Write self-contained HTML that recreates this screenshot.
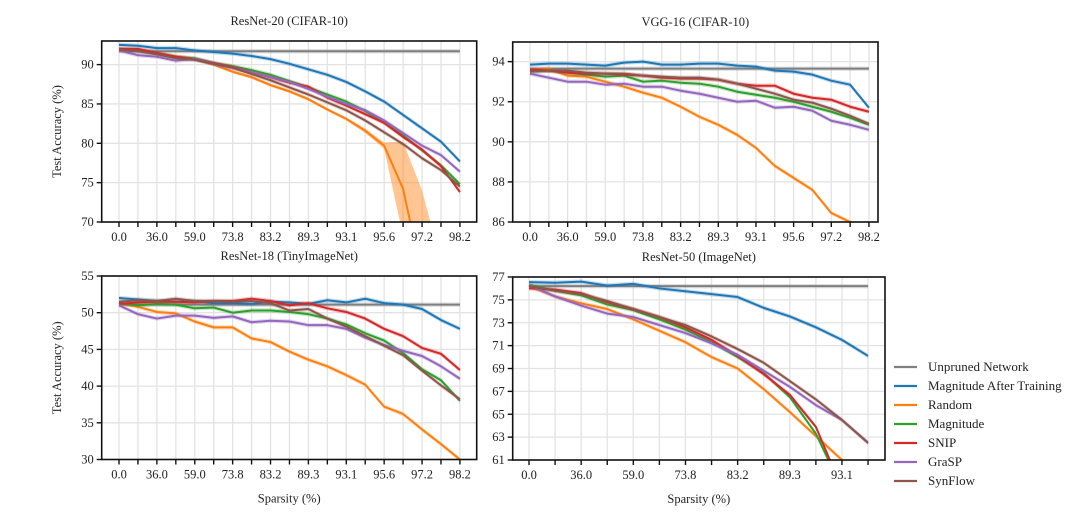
<!DOCTYPE html>
<html><head><meta charset="utf-8">
<style>
html,body{margin:0;padding:0;background:#fff;}
svg{display:block;font-family:"Liberation Serif",serif;}
</style></head>
<body>
<svg id="fig" width="1080" height="514" viewBox="0 0 1080 514" xmlns="http://www.w3.org/2000/svg"></svg>
<script>
const seriesNames = ["Unpruned Network","Magnitude After Training","Random","Magnitude","SNIP","GraSP","SynFlow"];
const seriesKeys = ["unpruned","mat","random","magnitude","snip","grasp","synflow"];
const seriesColors = ["#7f7f7f","#1f77b4","#ff7f0e","#2ca02c","#d62728","#9467bd","#8c564b"];

const xLabels19 = ["0.0","36.0","59.0","73.8","83.2","89.3","93.1","95.6","97.2","98.2"];
const xLabels14 = ["0.0","36.0","59.0","73.8","83.2","89.3","93.1"];

// ResNet-20 (CIFAR-10)
const r20Unpruned = Array(19).fill(91.7);
const r20Mat = [92.5,92.4,92.1,92.1,91.8,91.6,91.4,91.1,90.7,90.1,89.4,88.7,87.8,86.6,85.3,83.6,81.9,80.2,77.7];
const r20Random = [92.0,91.9,91.4,91.0,90.7,90.0,89.1,88.4,87.4,86.6,85.6,84.3,83.1,81.6,79.7,74.2,63.0,55.0,50.0];
const r20RandomBand = [0.2,0.2,0.2,0.2,0.2,0.2,0.2,0.2,0.2,0.2,0.2,0.2,0.2,0.3,0.4,6.0,11,10,10];
const r20Magnitude = [91.9,91.8,91.4,91.0,90.8,90.2,89.8,89.3,88.7,87.9,87.1,86.2,85.3,84.1,82.6,81.0,79.1,77.2,74.8];
const r20Snip = [92.0,92.0,91.5,91.0,90.7,90.2,89.7,89.0,88.4,87.7,87.2,85.8,84.8,83.7,82.6,80.8,79.2,77.1,73.8];
const r20Grasp = [91.8,91.2,91.0,90.5,90.7,90.1,89.6,89.0,88.4,87.8,86.9,85.9,85.0,84.2,82.9,81.3,79.7,78.5,76.4];
const r20Synflow = [91.9,91.7,91.3,90.8,90.6,90.1,89.6,88.8,88.0,87.1,86.2,85.2,84.2,82.9,81.4,79.9,78.1,76.6,74.5];

// VGG-16 (CIFAR-10)
const vggUnpruned = Array(19).fill(93.65);
const vggMat = [93.85,93.9,93.9,93.85,93.8,93.95,94.0,93.85,93.85,93.9,93.9,93.8,93.75,93.55,93.5,93.35,93.05,92.85,91.7];
const vggRandom = [93.55,93.65,93.3,93.25,93.0,92.75,92.45,92.2,91.75,91.25,90.85,90.35,89.7,88.8,88.2,87.6,86.45,86.0,85.4];
const vggMagnitude = [93.5,93.55,93.45,93.35,93.25,93.3,93.0,93.05,92.95,92.9,92.75,92.5,92.35,92.2,92.0,91.75,91.5,91.2,90.85];
const vggSnip = [93.6,93.55,93.45,93.4,93.4,93.35,93.3,93.2,93.15,93.15,93.1,92.9,92.8,92.8,92.4,92.2,92.1,91.75,91.5];
const vggGrasp = [93.4,93.2,93.0,93.0,92.85,92.9,92.75,92.75,92.55,92.4,92.2,92.0,92.05,91.7,91.75,91.55,91.05,90.85,90.6];
const vggSynflow = [93.5,93.55,93.55,93.45,93.4,93.4,93.3,93.25,93.2,93.2,93.1,92.9,92.65,92.4,92.1,91.95,91.65,91.3,90.9];

// ResNet-18 (TinyImageNet)
const r18Unpruned = Array(19).fill(51.1);
const r18Mat = [52.0,51.8,51.6,51.5,51.6,51.3,51.3,51.2,51.5,51.4,51.2,51.7,51.4,51.9,51.3,51.1,50.5,49.0,47.8];
const r18Random = [51.3,50.8,50.1,49.9,48.8,48.0,48.0,46.5,46.0,44.7,43.6,42.7,41.5,40.2,37.2,36.2,34.1,32.1,30.0];
const r18Magnitude = [51.3,51.0,51.2,51.1,50.6,50.7,50.0,50.3,50.3,50.1,49.8,49.2,48.4,47.2,46.2,44.5,42.3,40.8,38.0];
const r18Snip = [51.2,51.4,51.5,51.5,51.4,51.6,51.6,51.9,51.6,51.0,51.3,50.6,50.1,49.2,47.8,46.8,45.2,44.4,42.2];
const r18Grasp = [51.0,49.8,49.2,49.6,49.6,49.3,49.5,48.7,48.9,48.8,48.3,48.3,47.8,46.6,45.6,44.8,44.1,42.7,41.0];
const r18Synflow = [51.5,51.7,51.6,51.9,51.6,51.6,51.5,51.6,51.3,50.3,50.5,49.2,48.1,46.8,45.5,44.2,42.1,40.1,38.2];

// ResNet-50 (ImageNet)
const r50Unpruned = Array(14).fill(76.2);
const r50Mat = [76.55,76.5,76.6,76.25,76.4,76.0,75.75,75.5,75.25,74.3,73.55,72.6,71.5,70.1];
const r50Random = [76.2,75.3,74.7,74.2,73.3,72.3,71.3,70.0,69.0,67.2,65.2,63.1,61.0,59.0];
const r50Magnitude = [76.3,75.8,75.4,74.6,74.1,73.3,72.4,71.3,70.0,68.6,66.5,63.3,58.5,56.0];
const r50Snip = [76.0,75.9,75.6,74.8,74.2,73.5,72.6,71.5,70.1,68.5,66.7,63.9,58.5,56.0];
const r50Grasp = [76.3,75.3,74.5,73.8,73.5,72.8,72.1,71.2,70.2,68.8,67.4,65.8,64.5,62.5];
const r50Synflow = [76.2,75.8,75.5,74.9,74.2,73.5,72.8,71.8,70.7,69.5,67.9,66.3,64.5,62.5];

const panels = [
  {name:"resnet20",title:"ResNet-20 (CIFAR-10)",x0:101.7,x1:476.7,y0:41,y1:222,xs:119,dx:18.94,n:19,
   ymin:70,ymax:93,yTicks:[70,75,80,85,90],xLabels:xLabels19,ylab:true,xlab:false,
   data:[r20Unpruned,r20Mat,r20Random,r20Magnitude,r20Snip,r20Grasp,r20Synflow],band:{2:r20RandomBand}},
  {name:"vgg16",title:"VGG-16 (CIFAR-10)",x0:512.7,x1:878,y0:42,y1:222,xs:530,dx:18.83,n:19,
   ymin:86,ymax:94.98,yTicks:[86,88,90,92,94],xLabels:xLabels19,ylab:false,xlab:false,
   data:[vggUnpruned,vggMat,vggRandom,vggMagnitude,vggSnip,vggGrasp,vggSynflow],band:{}},
  {name:"resnet18",title:"ResNet-18 (TinyImageNet)",x0:101.7,x1:476.7,y0:276,y1:459.5,xs:119,dx:18.94,n:19,
   ymin:30,ymax:55,yTicks:[30,35,40,45,50,55],xLabels:xLabels19,ylab:true,xlab:true,
   data:[r18Unpruned,r18Mat,r18Random,r18Magnitude,r18Snip,r18Grasp,r18Synflow],band:{}},
  {name:"resnet50",title:"ResNet-50 (ImageNet)",x0:512.7,x1:885,y0:277,y1:460,xs:529,dx:26.08,n:14,
   ymin:61,ymax:77,yTicks:[61,63,65,67,69,71,73,75,77],xLabels:xLabels14,ylab:false,xlab:true,
   data:[r50Unpruned,r50Mat,r50Random,r50Magnitude,r50Snip,r50Grasp,r50Synflow],band:{}}
];

const NS="http://www.w3.org/2000/svg";
const svg=document.getElementById('fig');
function mk(tag,attrs,parent){const e=document.createElementNS(NS,tag);for(const k in attrs)e.setAttribute(k,attrs[k]);(parent||svg).appendChild(e);return e;}
const FS=12.5;
const defs=mk('defs',{});
panels.forEach((p,pi)=>{
  const xOf=i=>p.xs+i*p.dx;
  const yOf=v=>p.y1-(v-p.ymin)/(p.ymax-p.ymin)*(p.y1-p.y0);
  const g=mk('g',{});
  
  
  const cp=mk('clipPath',{id:'clip'+pi},defs);
  mk('rect',{x:p.x0,y:p.y0,width:p.x1-p.x0,height:p.y1-p.y0},cp);
  const grid=mk('g',{stroke:'#e3e3e3','stroke-width':1.3},g);
  
  
  for(let i=0;i<p.n;i++) mk('line',{x1:xOf(i),x2:xOf(i),y1:p.y0,y2:p.y1},grid);
  p.yTicks.forEach(v=>mk('line',{x1:p.x0,x2:p.x1,y1:yOf(v),y2:yOf(v)},grid));
  const sg=mk('g',{'clip-path':'url(#clip'+pi+')'},g);
  p.data.forEach((arr,si)=>{
    const bw=p.band[si];
    const hw=bw||arr.map(()=>0.12*(p.ymax-p.ymin)/10);
    let up=arr.map((v,i)=>xOf(i)+','+yOf(v+hw[i])).join(' ');
    let dn=arr.map((v,i)=>xOf(i)+','+yOf(v-hw[i])).reverse().join(' ');
    const band=mk('polygon',{points:up+' '+dn,fill:seriesColors[si],opacity:bw?0.45:0.25},sg);
    
    
    const pl=mk('polyline',{points:arr.map((v,i)=>xOf(i)+','+yOf(v)).join(' '),fill:'none',stroke:seriesColors[si],'stroke-width':2,'stroke-linejoin':'round'},sg);
    
    
  });
  const fr=mk('rect',{x:p.x0,y:p.y0,width:p.x1-p.x0,height:p.y1-p.y0,fill:'none',stroke:'#111','stroke-width':1.6},g);
  
  
  const xt=mk('g',{},g);
  
  
  for(let i=0;i<p.n;i++){
    mk('line',{x1:xOf(i),x2:xOf(i),y1:p.y1,y2:p.y1+5,stroke:'#111','stroke-width':1.4},xt);
  }
  p.xLabels.forEach((lab,k)=>{
    const t=mk('text',{x:xOf(k*2),y:p.y1+19,'text-anchor':'middle','font-size':FS,fill:'#222'},xt);
    t.textContent=lab;
    
    
  });
  const yt=mk('g',{},g);
  
  
  p.yTicks.forEach(v=>{
    mk('line',{x1:p.x0-5,x2:p.x0,y1:yOf(v),y2:yOf(v),stroke:'#111','stroke-width':1.4},yt);
    const t=mk('text',{x:p.x0-8,y:yOf(v)+4,'text-anchor':'end','font-size':FS,fill:'#222'},yt);
    t.textContent=v;
    
    
  });
  const tt=mk('text',{x:(p.x0+p.x1)/2,y:p.y0-16,'text-anchor':'middle','font-size':FS,fill:'#222'},g);
  tt.textContent=p.title;
  
  
  if(p.ylab){
    const yl=mk('text',{x:0,y:0,transform:`translate(61,${(p.y0+p.y1)/2}) rotate(-90)`,'text-anchor':'middle','font-size':FS,fill:'#222'},g);
    yl.textContent='Test Accuracy (%)';
    
    
  }
  if(p.xlab){
    const xl=mk('text',{x:(p.x0+p.x1)/2,y:p.y1+43,'text-anchor':'middle','font-size':FS,fill:'#222'},g);
    xl.textContent='Sparsity (%)';
    
    
  }
});
const lg=mk('g',{});


seriesNames.forEach((nm,i)=>{
  const y=367+i*19;
  const e=mk('g',{},lg);
  
  
  mk('line',{x1:894,x2:917,y1:y,y2:y,stroke:seriesColors[i],'stroke-width':2.2},e);
  const t=mk('text',{x:928,y:y+4,'font-size':13,fill:'#222'},e);
  t.textContent=nm;
});
</script>
</body></html>
